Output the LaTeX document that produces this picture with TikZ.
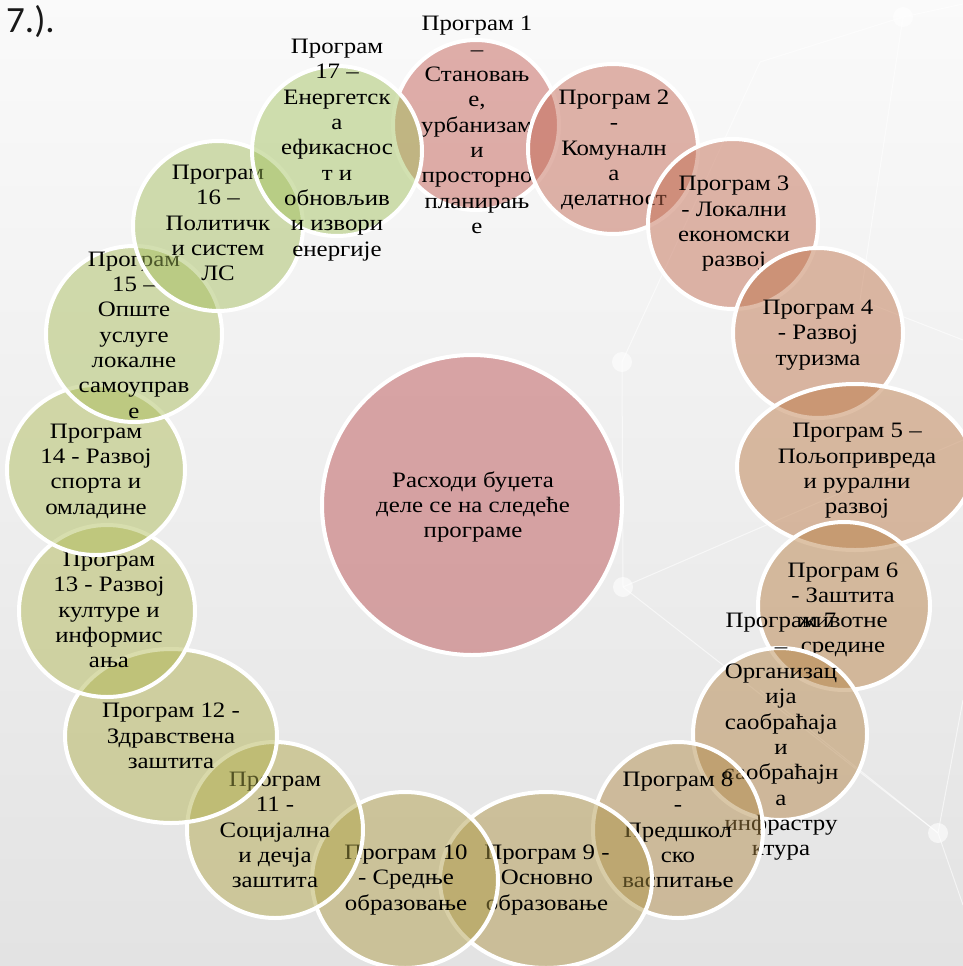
\documentclass[tikz,border=0pt]{standalone}
\usepackage{fontspec}
\setmainfont{Liberation Serif}[FakeStretch=1.13]
\newfontfamily\headfont{Carlito}

\definecolor{cmid}{RGB}{186,76,78}
\definecolor{c1}{RGB}{193,88,78}
\definecolor{c2}{RGB}{193,99,78}
\definecolor{c3}{RGB}{193,104,76}
\definecolor{c4}{RGB}{189,112,70}
\definecolor{c5}{RGB}{187,120,68}
\definecolor{c6}{RGB}{183,126,66}
\definecolor{c7}{RGB}{179,130,68}
\definecolor{c8}{RGB}{176,137,70}
\definecolor{c9}{RGB}{174,147,68}
\definecolor{c10}{RGB}{174,155,68}
\definecolor{c11}{RGB}{176,165,70}
\definecolor{c12}{RGB}{176,176,76}
\definecolor{c13}{RGB}{176,182,80}
\definecolor{c14}{RGB}{172,186,84}
\definecolor{c15}{RGB}{168,188,88}
\definecolor{c16}{RGB}{163,188,90}
\definecolor{c17}{RGB}{160,192,90}

\begin{document}
\begin{tikzpicture}[x=1pt, y=-1pt,
    bubble/.style={fill=#1, fill opacity=0.47, draw=white, line width=4pt},
    prog/.style={align=center, inner sep=0pt, font=\fontsize{22}{25.3}\selectfont}]
  \useasboundingbox (0,0) rectangle (963,966);
  \shade[top color=white!98!black, bottom color=white!89!black] (0,0) rectangle (963,966);

  % faint network in the background
  \foreach \a/\b in {{(903,17)}/{(963,4)}, {(903,17)}/{(760,62)}, {(903,17)}/{(860,300)},
      {(760,62)}/{(622,362)}, {(622,362)}/{(623,587)}, {(623,587)}/{(938,833)},
      {(623,587)}/{(963,440)}, {(938,833)}/{(963,700)}, {(938,833)}/{(963,905)},
      {(760,690)}/{(938,833)}, {(860,300)}/{(963,340)}}
    \draw[white, line width=1pt, opacity=0.6] \a -- \b;
  \foreach \p in {(903,17), (622,362), (623,587), (938,833)}
    \fill[white, opacity=0.6] \p circle (10pt);

  \node[font=\headfont\fontsize{37}{40}\selectfont, text=black!90, anchor=base west, inner sep=0pt] (head) at (6,33) {7.).};

  % centre
  \draw[bubble=cmid] (472,505) circle (150pt);
  \node[prog] (mid) at (473,507) {Расходи буџета\\деле се на следеће\\програме};

  % programmes, clockwise from the top
  \draw[bubble=c1] (476,125) ellipse [x radius=83pt, y radius=85pt];
  \node[prog] (p1) at (477,125) {Програм 1\\–\\Становањ\\е,\\урбанизам\\и\\просторно\\планирањ\\е};

  \draw[bubble=c2] (613,149) circle (85pt);
  \node[prog] (p2) at (614,150) {Програм 2\\-\\Комунaлн\\а\\делатност};

  \draw[bubble=c3] (733,224) circle (85pt);
  \node[prog] (p3) at (734,224) {Програм 3\\- Локални\\економски\\развој};

  \draw[bubble=c4] (818,333) circle (85pt);
  \node[prog] (p4) at (818,335) {Програм 4\\- Развој\\туризма};

  \draw[bubble=c5] (855,467) ellipse [x radius=118pt, y radius=83pt];
  \node[prog] (p5) at (857,471) {Програм 5 –\\Пољопривреда\\и рурални\\развој};

  \draw[bubble=c6] (844,606) ellipse [x radius=86pt, y radius=84pt];
  \node[prog] (p6) at (843,610) {Програм 6\\- Заштита\\животне\\средине};

  \draw[bubble=c7] (780,734) ellipse [x radius=87pt, y radius=86pt];
  \node[prog] (p7) at (781,737) {Програм 7\\–\\Организац\\ија\\саобраћаја\\и\\саобраћајн\\а\\инфрастру\\ктура};

  \draw[bubble=c8] (678,830) ellipse [x radius=85pt, y radius=88pt];
  \node[prog] (p8) at (678,830) {Програм 8\\-\\Предшкол\\ско\\васпитање};

  \draw[bubble=c9] (546,880) ellipse [x radius=106pt, y radius=88pt];
  \node[prog] (p9) at (547,880) {Програм 9 -\\Основно\\образовање};

  \draw[bubble=c10] (405,880) ellipse [x radius=93pt, y radius=88pt];
  \node[prog] (p10) at (406,880) {Програм 10\\- Средње\\образовање};

  \draw[bubble=c11] (275,830) circle (88pt);
  \node[prog] (p11) at (275,830) {Програм\\11 -\\Социјална\\и дечја\\заштита};

  \draw[bubble=c12] (171,736) ellipse [x radius=106pt, y radius=87pt];
  \node[prog] (p12) at (171,736) {Програм 12 -\\Здравствена\\заштита};

  \draw[bubble=c13] (107,611) ellipse [x radius=88pt, y radius=86pt];
  \node[prog] (p13) at (109,610) {Програм\\13 - Развој\\културе и\\информис\\ања};

  \draw[bubble=c14] (96,470) ellipse [x radius=89pt, y radius=85pt];
  \node[prog] (p14) at (96,471) {Програм\\14 - Развој\\спорта и\\омладине};

  \draw[bubble=c15] (134,334) ellipse [x radius=88pt, y radius=88pt];
  \node[prog] (p15) at (134,335) {Програм\\15 –\\Опште\\услуге\\локалне\\самоуправ\\е};

  \draw[bubble=c16] (218,226) circle (85pt);
  \node[prog] (p16) at (218,223) {Програм\\16 –\\Политичк\\и систем\\ЛС};

  \draw[bubble=c17] (337,151) circle (85pt);
  \node[prog] (p17) at (337,150) {Програм\\17 –\\Енергетск\\а\\ефикаснос\\т и\\обновљив\\и извори\\енергије};
\end{tikzpicture}
\end{document}
